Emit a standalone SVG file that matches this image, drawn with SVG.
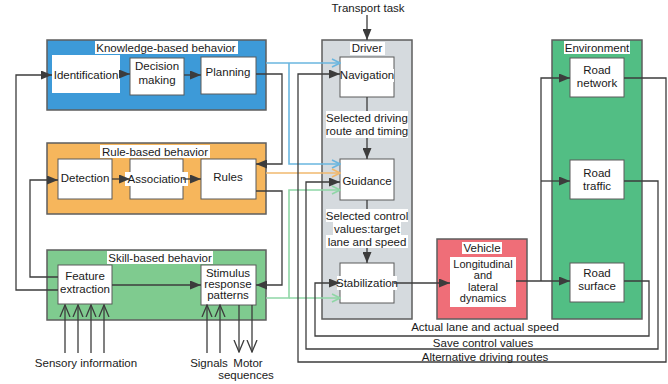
<svg xmlns="http://www.w3.org/2000/svg" width="668" height="384" viewBox="0 0 668 384">
<style>
text{font-family:"Liberation Sans",Arial,sans-serif;font-size:11.5px;fill:#1a1a1a;text-anchor:middle}
.sm{font-size:11px}
.box{fill:#fff;stroke:#5a5a5a;stroke-width:1}
.grp{stroke:#5e5e5e;stroke-width:1.5}
.lbl{fill:#fff}
.ln{fill:none;stroke:#3c3c3c;stroke-width:1.3}
.blue{fill:none;stroke:#6ab6df;stroke-width:1.6}
.orng{fill:none;stroke:#f0b86e;stroke-width:1.6}
.grn{fill:none;stroke:#8fd6a6;stroke-width:1.6}
</style>
<defs>
<marker id="a" markerUnits="userSpaceOnUse" markerWidth="11" markerHeight="9" refX="11" refY="4.5" orient="auto"><path d="M0,0L11,4.5L0,9z" fill="#3c3c3c"/></marker>
<marker id="o" markerUnits="userSpaceOnUse" markerWidth="13" markerHeight="12" refX="12" refY="6" orient="auto"><path d="M0,1L12,6L0,11" fill="none" stroke="#3c3c3c" stroke-width="1.3"/></marker>
<marker id="ab" markerUnits="userSpaceOnUse" markerWidth="10" markerHeight="10" refX="9" refY="5" orient="auto"><path d="M1,1L9,5L1,9" fill="none" stroke="#6ab6df" stroke-width="1.6"/></marker>
<marker id="ao" markerUnits="userSpaceOnUse" markerWidth="10" markerHeight="10" refX="9" refY="5" orient="auto"><path d="M1,1L9,5L1,9" fill="none" stroke="#f0b86e" stroke-width="1.6"/></marker>
<marker id="ag" markerUnits="userSpaceOnUse" markerWidth="10" markerHeight="10" refX="9" refY="5" orient="auto"><path d="M1,1L9,5L1,9" fill="none" stroke="#8fd6a6" stroke-width="1.6"/></marker>
</defs>

<g id="knowledge">
<rect x="47" y="40" width="219" height="70" fill="#3d9ad8" class="grp"/>
<rect x="95" y="41" width="143" height="13" class="lbl"/>
<text x="166" y="51.5">Knowledge-based behavior</text>
</g>
<g id="identification"><rect x="52" y="55" width="68" height="38" fill="#fff"/><text x="86" y="79">Identification</text></g>
<g id="decision"><rect x="130" y="58" width="54" height="37" class="box"/><text x="157" y="70">Decision</text><text x="157" y="84">making</text></g>
<g id="planning"><rect x="201" y="57" width="55" height="37" class="box"/><text x="228" y="76">Planning</text></g>

<g id="rule">
<rect x="47" y="143" width="219" height="71" fill="#f6b65c" class="grp"/>
<rect x="100" y="145" width="110" height="13" class="lbl"/>
<text x="155" y="155.5">Rule-based behavior</text>
</g>
<g id="detection"><rect x="58" y="159" width="54" height="40" class="box"/><text x="85" y="182">Detection</text></g>
<g id="association"><rect x="130" y="159" width="53" height="40" class="box"/><rect x="125" y="172" width="63" height="14" class="lbl"/><text x="157" y="183">Association</text></g>
<g id="rules"><rect x="201" y="159" width="55" height="40" class="box"/><text x="228" y="181">Rules</text></g>

<g id="skill">
<rect x="47" y="250" width="219" height="70" fill="#7fcb8f" class="grp"/>
<rect x="107" y="251" width="106" height="13" class="lbl"/>
<text x="160" y="261.5">Skill-based behavior</text>
</g>
<g id="feature"><rect x="58" y="265" width="54" height="39" class="box"/><text x="85" y="280">Feature</text><text x="85" y="293">extraction</text></g>
<g id="stimulus"><rect x="201" y="265" width="55" height="40" class="box"/><text x="228" y="277">Stimulus</text><text x="228" y="288">response</text><text x="228" y="299">patterns</text></g>

<g id="driver">
<rect x="322" y="40" width="90" height="279" fill="#d5dade" class="grp"/>
<rect x="350" y="42" width="35" height="13" class="lbl"/>
<text x="367" y="52">Driver</text>
</g>
<g id="navigation"><rect x="340" y="57" width="54" height="40" class="box"/><rect x="341" y="69" width="53" height="13" class="lbl"/><text x="367" y="79">Navigation</text></g>
<g id="guidance"><rect x="340" y="159" width="54" height="41" class="box"/><text x="367" y="185">Guidance</text></g>
<g id="stabilization"><rect x="340" y="263" width="54" height="40" class="box"/><rect x="337" y="276" width="60" height="14" class="lbl"/><text x="367" y="287">Stabilization</text></g>

<g id="vehicle">
<rect x="437" y="239" width="90" height="80" fill="#ef6e78" class="grp"/>
<rect x="462" y="242" width="40" height="12" class="lbl"/>
<text x="482" y="252">Vehicle</text>
<rect x="450" y="257" width="66" height="50" fill="#fff"/>
<text class="sm" x="483" y="268">Longitudinal</text><text class="sm" x="483" y="279">and</text><text class="sm" x="483" y="291">lateral</text><text class="sm" x="483" y="302">dynamics</text>
</g>

<g id="environment">
<rect x="552" y="40" width="90" height="279" fill="#52be84" class="grp"/>
<rect x="564" y="41" width="66" height="13" class="lbl"/>
<text x="597" y="52">Environment</text>
</g>
<g id="road-network"><rect x="570" y="58" width="54" height="39" class="box"/><text x="597" y="74">Road</text><text x="597" y="87">network</text></g>
<g id="road-traffic"><rect x="570" y="160" width="54" height="39" class="box"/><text x="597" y="177">Road</text><text x="597" y="190">traffic</text></g>
<g id="road-surface"><rect x="570" y="263" width="54" height="39" class="box"/><text x="597" y="277">Road</text><text x="597" y="290">surface</text></g>

<g id="connectors">
<path class="ln" d="M120,74H130" marker-end="url(#a)"/>
<path class="ln" d="M184,75H201" marker-end="url(#a)"/>
<path class="ln" d="M112,179H130" marker-end="url(#a)"/>
<path class="ln" d="M183,179H201" marker-end="url(#a)"/>
<path class="ln" d="M112,285H201" marker-end="url(#a)"/>
<path class="ln" d="M58,290H16V75H52" marker-end="url(#a)"/>
<path class="ln" d="M58,277H30V180H58" marker-end="url(#a)"/>
<path class="ln" d="M256,74H282V164H256" marker-end="url(#a)"/>
<path class="ln" d="M256,191H282V285H256" marker-end="url(#a)"/>
<path class="ln" d="M65,353V305" marker-end="url(#o)"/>
<path class="ln" d="M78,353V305" marker-end="url(#o)"/>
<path class="ln" d="M91,353V305" marker-end="url(#o)"/>
<path class="ln" d="M104,353V305" marker-end="url(#o)"/>
<path class="ln" d="M207,353V305" marker-end="url(#o)"/>
<path class="ln" d="M220,353V305" marker-end="url(#o)"/>
<path class="ln" d="M239,305V352" marker-end="url(#o)"/>
<path class="ln" d="M252,305V352" marker-end="url(#o)"/>
<path class="blue" d="M266,63H340" marker-end="url(#ab)"/>
<path class="blue" d="M289,63V164H340" marker-end="url(#ab)"/>
<path class="orng" d="M266,173H340" marker-end="url(#ao)"/>
<path class="grn" d="M266,298H289V190H340" marker-end="url(#ag)"/>
<path class="grn" d="M289,298H340" marker-end="url(#ag)"/>
<path class="ln" d="M367,15V40" marker-end="url(#a)"/>
<path class="ln" d="M367,97V159" marker-end="url(#a)"/>
<path class="ln" d="M367,200V263" marker-end="url(#a)"/>
<path class="ln" d="M394,283H450" marker-end="url(#a)"/>
<path class="ln" d="M516,281H570" marker-end="url(#a)"/>
<path class="ln" d="M541,281V78H570" marker-end="url(#a)"/>
<path class="ln" d="M541,181H570" marker-end="url(#a)"/>
<path class="ln" d="M624,281H649V336H315V283H340" marker-end="url(#a)"/>
<path class="ln" d="M624,181H658V349H306V182H340" marker-end="url(#a)"/>
<path class="ln" d="M624,78H666V362H298V74H340" marker-end="url(#a)"/>
</g>

<g id="labels">
<text x="368" y="12">Transport task</text>
<rect x="326" y="111" width="82" height="27" class="lbl"/>
<text x="367" y="122">Selected driving</text>
<text x="367" y="135">route and timing</text>
<rect x="326" y="209" width="82" height="13" class="lbl"/>
<rect x="333" y="222" width="68" height="13" class="lbl"/>
<rect x="326" y="235" width="82" height="13" class="lbl"/>
<text x="367" y="220">Selected control</text>
<text x="367" y="233">values:target</text>
<text x="367" y="246">lane and  speed</text>
<rect x="412" y="321" width="146" height="13" class="lbl"/>
<text x="485" y="331">Actual lane and actual speed</text>
<rect x="432" y="337" width="102" height="11" class="lbl"/>
<text x="483" y="347">Save control values</text>
<rect x="420" y="351" width="128" height="10" class="lbl"/>
<text x="485" y="361">Alternative driving routes</text>
<text x="86" y="367">Sensory information</text>
<text x="209" y="367">Signals</text>
<text x="248" y="367">Motor</text>
<text x="246" y="379">sequences</text>
</g>
</svg>
